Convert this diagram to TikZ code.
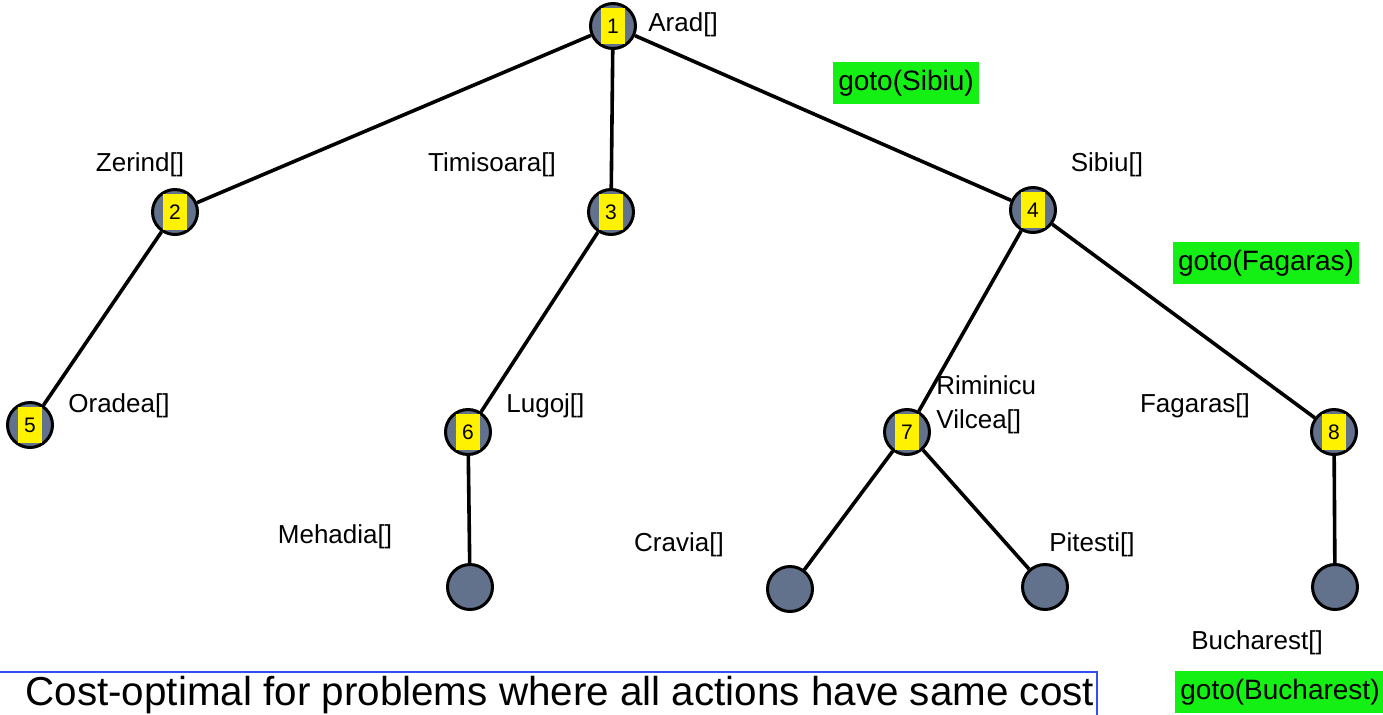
\documentclass[tikz,border=0pt]{standalone}
\usepackage{fontspec}
\setmainfont{Liberation Sans}
\usetikzlibrary{positioning}

\begin{document}
\begin{tikzpicture}[
    x=0.5pt,y=-0.5pt,
    state/.style={circle,draw=black,line width=1.5pt,fill=stategray,minimum size=22.5pt,inner sep=0pt},
    tag/.style={fill=yellow,minimum width=12pt,minimum height=18pt,inner sep=0pt,font=\fontsize{10.5}{11}\selectfont},
    city/.style={inner sep=0pt,align=left,font=\fontsize{13}{17}\selectfont},
    action/.style={fill=actiongreen,inner sep=2.5pt,minimum height=21pt,font=\fontsize{14}{16}\selectfont},
    edge/.style={line width=1.8pt}
  ]
  \definecolor{stategray}{RGB}{98,114,140}
  \definecolor{actiongreen}{RGB}{20,240,20}
  \definecolor{boxblue}{RGB}{50,80,240}
  \clip (0,0) rectangle (1383,714);
  \useasboundingbox (0,0) rectangle (1383,714);
  % numbered states
  \node [state] (n1) at (613,26) {};
  \node [state] (n2) at (175,212) {};
  \node [state] (n3) at (611,212) {};
  \node [state] (n4) at (1033,210) {};
  \node [state] (n5) at (30,425) {};
  \node [state] (n6) at (468,432) {};
  \node [state] (n7) at (907,432) {};
  \node [state] (n8) at (1334,432) {};
  % frontier
  \node [state] (m6) at (470,587) {};
  \node [state] (c7) at (790,589) {};
  \node [state] (p7) at (1045,587) {};
  \node [state] (b8) at (1335,587) {};
  \foreach \i in {1,...,8}
    \node [tag] (t\i) at (n\i) {\i};
  \foreach \from/\to in {n1/n2,n1/n3,n1/n4,n2/n5,n3/n6,n4/n7,n4/n8,n6/m6,n7/c7,n7/p7,n8/b8}
    \draw [edge] (\from) -- (\to);
  % city names
  \node [city,anchor=west] (arad) at (648,25) {Arad[]};
  \node [city] (zerind) at (140,165) {Zerind[]};
  \node [city] (timisoara) at (492,165) {Timisoara[]};
  \node [city] (sibiu) at (1107,165) {Sibiu[]};
  \node [city,anchor=west] (oradea) at (68,406) {Oradea[]};
  \node [city,anchor=west] (lugoj) at (506,406) {Lugoj[]};
  \node [city,anchor=west] (rimnicu) at (936,405) {Riminicu\\Vilcea[]};
  \node [city] (fagaras) at (1195,406) {Fagaras[]};
  \node [city] (mehadia) at (335,537) {Mehadia[]};
  \node [city] (cravia) at (679,545) {Cravia[]};
  \node [city] (pitesti) at (1092,545) {Pitesti[]};
  \node [city] (bucharest) at (1257,643) {Bucharest[]};
  % actions
  \node [action] (gosibiu) at (906,83) {goto(Sibiu)};
  \node [action] (gofagaras) at (1266,263) {goto(Fagaras)};
  \node [action,anchor=west] (gobucharest) at (1175,692) {goto(Bucharest)};
  % note
  \draw [boxblue,line width=1.3pt] (-5,672) -- (1097,672) -- (1097,730);
  \node [anchor=base west,inner sep=0pt,font=\fontsize{20.2}{24}\selectfont] (note) at (25,705)
    {Cost-optimal for problems where all actions have same cost};
\end{tikzpicture}
\end{document}
